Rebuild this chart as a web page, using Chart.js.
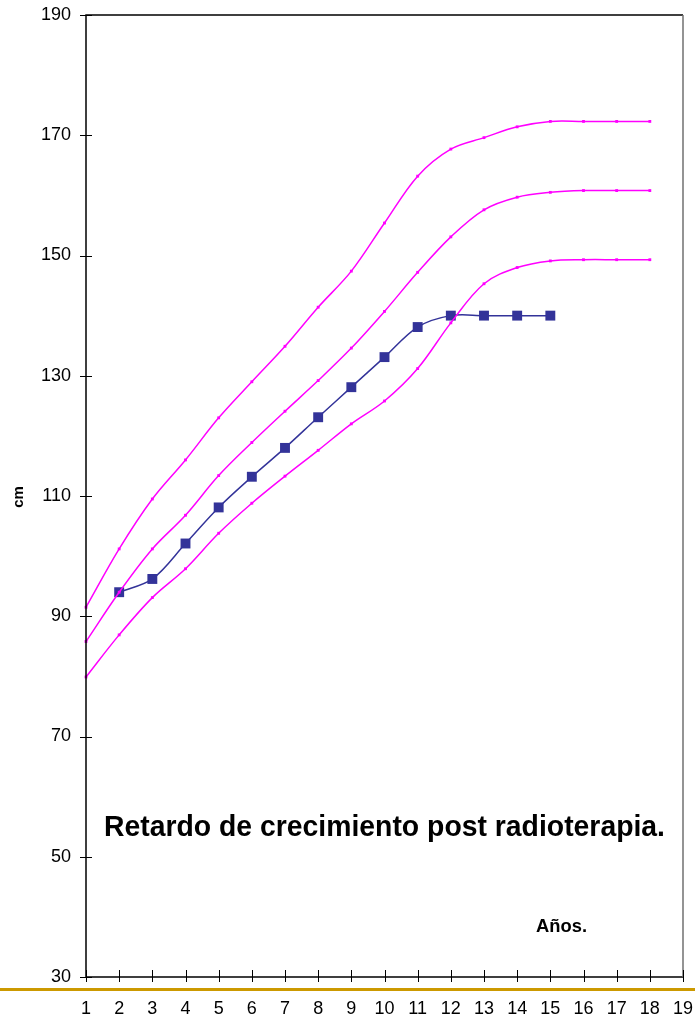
<!DOCTYPE html>
<html>
<head>
<meta charset="utf-8">
<script src="https://cdn.jsdelivr.net/npm/chart.js@4.4.1/dist/chart.umd.min.js"></script>
<style>
  body { margin: 0; background: #fff; }
  #wrap { position: relative; width: 695px; height: 1018px; }
  #bar { position: absolute; left: 0; top: 988px; width: 695px; height: 3px; background: #cc9900; }
</style>
</head>
<body>
<div id="wrap">
  <canvas id="chart"></canvas>
  <div id="bar"></div>
</div>
<script>
// Años (eje x)
const years = ['1','2','3','4','5','6','7','8','9','10','11','12','13','14','15','16','17','18','19'];

// Curvas de referencia (cm)
const curvaAlta = [91.5, 101.2, 109.5, 116, 123, 129, 134.9, 141.4, 147.4, 155.4, 163.2, 167.7, 169.6, 171.4, 172.3, 172.3, 172.3, 172.3];
const curvaMedia = [85.8, 94, 101.2, 106.8, 113.4, 118.9, 124.1, 129.2, 134.6, 140.7, 147.2, 153.1, 157.6, 159.7, 160.5, 160.8, 160.8, 160.8];
const curvaBaja = [79.9, 86.9, 93.1, 97.9, 103.8, 108.8, 113.3, 117.6, 122, 125.8, 131.2, 138.8, 145.3, 148, 149.1, 149.3, 149.3, 149.3];

// Paciente
const paciente = [null, 94, 96.2, 102.1, 108.1, 113.2, 118, 123.1, 128.1, 133.1, 138.1, 140, 140, 140, 140];

// Eje y
const yMin = 30;
const yMax = 190;
const yStep = 20;

const titulo = 'Retardo de crecimiento post radioterapia.';
const ejeX = 'Años.';
const ejeY = 'cm';

function curva(data) {
    return {
        data: data,
        borderColor: '#ff00ff',
        backgroundColor: '#ff00ff',
        borderWidth: 1.5,
        pointStyle: 'rect',
        pointRadius: 2,
        pointBorderWidth: 0,
        tension: 0.35
    };
}

// Marco, marcas de eje y textos
const marco = {
    id: 'marco',
    afterDraw(chart) {
        const ctx = chart.ctx;
        const a = chart.chartArea;
        const x = chart.scales.x;
        const y = chart.scales.y;
        ctx.save();
        ctx.lineWidth = 1.5;
        ctx.strokeStyle = '#000';
        ctx.beginPath();
        ctx.moveTo(a.right, a.top);
        ctx.lineTo(a.left, a.top);
        ctx.lineTo(a.left, a.bottom);
        ctx.lineTo(a.right, a.bottom);
        ctx.stroke();
        ctx.strokeStyle = '#707070';
        ctx.beginPath();
        ctx.moveTo(a.right, a.top);
        ctx.lineTo(a.right, a.bottom);
        ctx.stroke();

        ctx.strokeStyle = '#000';
        ctx.lineWidth = 1;
        ctx.beginPath();
        y.ticks.forEach((t, i) => {
            const py = Math.round(y.getPixelForTick(i)) + 0.5;
            ctx.moveTo(a.left - 6, py);
            ctx.lineTo(a.left + 6, py);
        });
        x.ticks.forEach((t, i) => {
            const px = Math.round(x.getPixelForTick(i)) + 0.5;
            ctx.moveTo(px, a.bottom - 7);
            ctx.lineTo(px, a.bottom + 5);
        });
        ctx.stroke();

        ctx.fillStyle = '#000';
        ctx.textBaseline = 'alphabetic';
        ctx.font = 'bold 29px "Liberation Sans", Arial, sans-serif';
        let w = ctx.measureText(titulo).width;
        ctx.save();
        ctx.translate(104, 836);
        ctx.scale(561 / w, 1);
        ctx.fillText(titulo, 0, 0);
        ctx.restore();

        ctx.font = 'bold 18px "Liberation Sans", Arial, sans-serif';
        w = ctx.measureText(ejeX).width;
        ctx.save();
        ctx.translate(536, 932);
        ctx.scale(51 / w, 1);
        ctx.fillText(ejeX, 0, 0);
        ctx.restore();

        ctx.font = 'bold 15px "Liberation Sans", Arial, sans-serif';
        ctx.save();
        ctx.translate(23, 497);
        ctx.rotate(-Math.PI / 2);
        ctx.textAlign = 'center';
        ctx.fillText(ejeY, 0, 0);
        ctx.restore();
        ctx.restore();
    }
};

new Chart(document.getElementById('chart'), {
    type: 'line',
    data: {
        labels: years,
        datasets: [
            curva(curvaAlta),
            curva(curvaMedia),
            curva(curvaBaja),
            {
                data: paciente,
                borderColor: '#333399',
                backgroundColor: '#333399',
                borderWidth: 1.5,
                pointStyle: 'rect',
                pointRadius: 7,
                pointBorderWidth: 0,
                tension: 0.35
            }
        ]
    },
    options: {
        responsive: true,
        maintainAspectRatio: false,
        animation: false,
        layout: { padding: { left: 0, top: 15, right: 12, bottom: 0 } },
        plugins: {
            legend: { display: false },
            tooltip: { enabled: false }
        },
        scales: {
            x: {
                offset: false,
                grid: { display: false, drawTicks: false },
                border: { display: false },
                ticks: {
                    autoSkip: false,
                    maxRotation: 0,
                    padding: 21,
                    color: '#000',
                    font: { family: '"Liberation Sans", Arial, sans-serif', size: 18 }
                },
                afterFit(scale) {
                    scale.height = 41;
                    scale.paddingLeft = 0;
                    scale.paddingRight = 0;
                }
            },
            y: {
                min: yMin,
                max: yMax,
                grid: { display: false, drawTicks: false },
                border: { display: false },
                ticks: {
                    stepSize: yStep,
                    padding: 15,
                    color: '#000',
                    font: { family: '"Liberation Sans", Arial, sans-serif', size: 18 }
                },
                afterFit(scale) {
                    scale.width = 86;
                    scale.paddingTop = 0;
                    scale.paddingBottom = 0;
                }
            }
        }
    },
    plugins: [marco]
});
</script>
</body>
</html>
